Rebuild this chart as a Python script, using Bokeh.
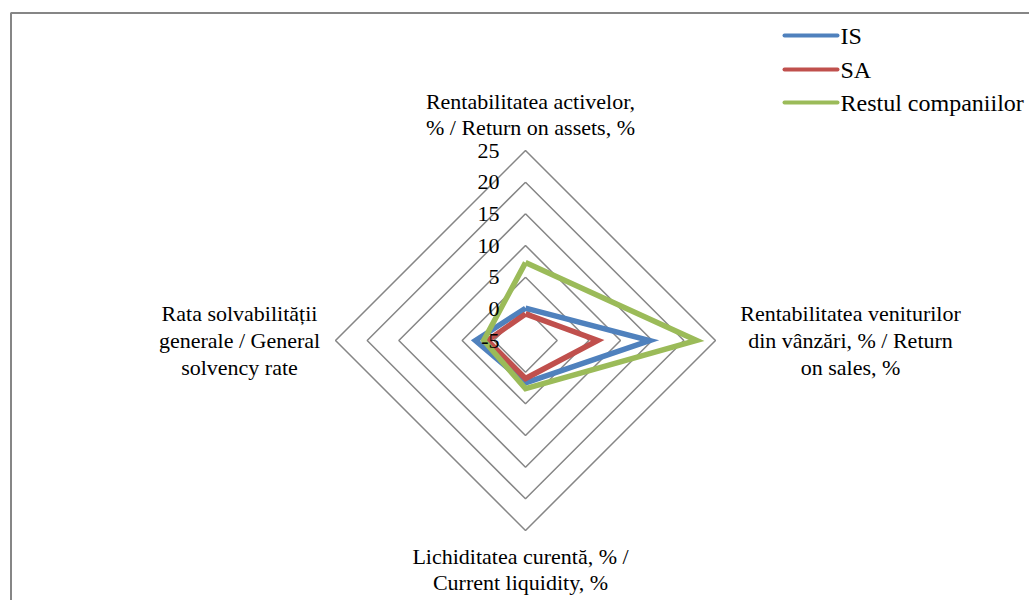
import numpy as np
from bokeh.plotting import figure
from bokeh.models import Range1d
from bokeh.core.properties import value
from bokeh.embed import file_html
from bokeh.resources import INLINE

# ---- data ----
categories = [
    "Rentabilitatea activelor,\n% / Return on assets, %",
    "Rentabilitatea veniturilor\ndin vânzări, % / Return\non sales, %",
    "Lichiditatea curentă, % /\nCurrent liquidity, %",
    "Rata solvabilității\ngenerale / General\nsolvency rate",
]
series_names = ["IS", "SA", "Restul companiilor"]
is_values = [0.1, 14.6, 1.7, 2.9]
sa_values = [-0.8, 6.4, 1.0, 1.0]
rest_values = [7.3, 22.0, 2.6, 1.6]
tick_values = [-5, 0, 5, 10, 15, 20, 25]
colors = ["#4F81BD", "#C0504D", "#9BBB59"]

# ---- geometry / style ----
FONT = "'Liberation Serif', 'Times New Roman', 'DejaVu Serif', serif"
FS = "22px"
PX = 6.333          # pixels per value unit
W, H = 1029, 600
CXp, CYp = 525, 340  # centre of radar in figure pixels
R_MIN, R_MAX = tick_values[0], tick_values[-1]
angles = np.pi / 2 - np.arange(len(categories)) * np.pi / 2

def to_xy(vals):
    r = np.array(vals, dtype=float) - R_MIN
    return r * np.cos(angles), r * np.sin(angles)

def img(xi, yi):
    """page pixel -> data coordinates"""
    return (xi - CXp) / PX, (CYp - yi) / PX

p = figure(width=W, height=H, output_backend="svg", toolbar_location=None,
           x_range=Range1d(-CXp / PX, (W - CXp) / PX),
           y_range=Range1d(-(H - CYp) / PX, CYp / PX),
           min_border=0, outline_line_color=None)
p.axis.visible = False
p.grid.visible = False
p.background_fill_color = "white"

# chart border (extends beyond the page on right/bottom)
bx, by = img(10.5, 12.5)
bx2, by2 = img(1200, 800)
p.line([bx, bx, bx2], [by2, by, by], line_color="#868686", line_width=2)

# grid rings
xs, ys = [], []
for t in tick_values[1:]:
    gx, gy = to_xy([t] * len(categories))
    xs.append(list(gx) + [gx[0]])
    ys.append(list(gy) + [gy[0]])
p.multi_line(xs, ys, line_color="#868686", line_width=1.5)

# series
for vals, name, col in zip([is_values, sa_values, rest_values], series_names, colors):
    sx, sy = to_xy(vals)
    p.line(list(sx) + [sx[0]], list(sy) + [sy[0]], line_color=col, line_width=5.5,
           line_join="miter")

# tick labels (drawn above the series)
p.text(x=[-26 / PX] * len(tick_values), y=[t - R_MIN for t in tick_values],
       text=[str(t) for t in tick_values], text_align="right", text_baseline="middle",
       text_font=value(FONT), text_font_size=FS, text_color="black")

# category labels
tipx, tipy = to_xy([R_MAX] * len(categories))
offsets = [(5, -36), (135, 0), (-5, 39), (-96, 0)]  # pixel offsets from axis tip (right, down)
for cat, tx, ty, (dx, dy) in zip(categories, tipx, tipy, offsets):
    p.text(x=[tx + dx / PX], y=[ty - dy / PX], text=[cat], text_align="center",
           text_baseline="middle", text_font=value(FONT), text_font_size=FS,
           text_color="black", text_line_height=1.07)

# legend (manual)
rows = [35, 69, 102]
for name, col, ry in zip(series_names, colors, rows):
    x0, y0 = img(784, ry)
    x1, _ = img(837, ry)
    p.line([x0, x1], [y0, y0], line_color=col, line_width=4, line_cap="round")
    tx, _ = img(840, ry)
    p.text(x=[tx], y=[y0], text=[name], text_align="left", text_baseline="middle",
           text_font=value(FONT), text_font_size="24px", text_color="black")

open("out.html", "w").write(file_html(p, INLINE))
